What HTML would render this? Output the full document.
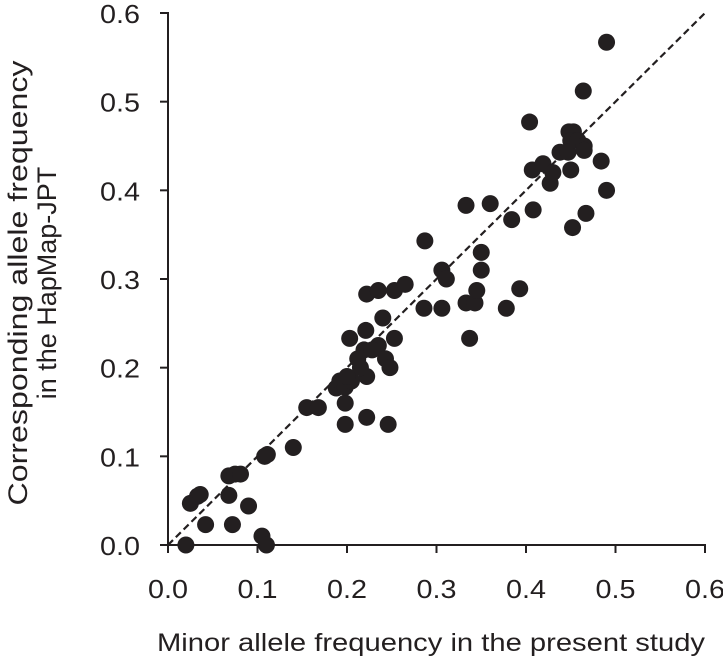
<!DOCTYPE html>
<html><head><meta charset="utf-8"><style>
body{margin:0;background:#fff;overflow:hidden;}
svg{display:block;}
svg text{font-family:"Liberation Sans",Arial,sans-serif;fill:#231f20;}
</style></head><body>
<svg id="chart" width="723" height="660"></svg>
<script>
const xTicks=[0.0,0.1,0.2,0.3,0.4,0.5,0.6];
const yTicks=[0.0,0.1,0.2,0.3,0.4,0.5,0.6];
const tickLabels=["0.0","0.1","0.2","0.3","0.4","0.5","0.6"];
const xVals=[0.02,0.025,0.033,0.036,0.042,0.072,0.068,0.068,0.075,0.081,0.09,0.105,0.11,0.108,0.111,0.14,0.155,0.168,0.188,0.192,0.198,0.198,0.198,0.203,0.222,0.222,0.235,0.253,0.265,0.246,0.221,0.24,0.253,0.219,0.235,0.243,0.248,0.222,0.215,0.205,0.212,0.287,0.286,0.306,0.306,0.311,0.333,0.333,0.343,0.337,0.345,0.35,0.35,0.36,0.378,0.384,0.393,0.404,0.407,0.408,0.419,0.427,0.43,0.438,0.448,0.453,0.45,0.447,0.458,0.465,0.45,0.465,0.464,0.484,0.49,0.49,0.452,0.467,0.2,0.228];
const yVals=[0.0,0.047,0.055,0.057,0.023,0.023,0.056,0.078,0.08,0.08,0.044,0.01,0.0,0.1,0.102,0.11,0.155,0.155,0.177,0.185,0.16,0.136,0.178,0.233,0.144,0.283,0.287,0.287,0.294,0.136,0.242,0.256,0.233,0.22,0.225,0.21,0.2,0.19,0.2,0.185,0.21,0.343,0.267,0.267,0.31,0.3,0.383,0.273,0.273,0.233,0.287,0.31,0.33,0.385,0.267,0.367,0.289,0.477,0.423,0.378,0.43,0.408,0.42,0.443,0.466,0.466,0.456,0.443,0.456,0.45,0.423,0.445,0.512,0.433,0.4,0.567,0.358,0.374,0.19,0.22];
const NS="http://www.w3.org/2000/svg";
const svg=document.getElementById('chart');
const X0=168,X1=705,Y0=545,Y1=13;
function sx(v){return X0+(v/0.6)*(X1-X0);}
function sy(v){return Y0-(v/0.6)*(Y0-Y1);}
function mk(t,a){const e=document.createElementNS(NS,t);for(const k in a)e.setAttribute(k,a[k]);svg.appendChild(e);return e;}
let e;
e=mk('line',{x1:sx(0),y1:sy(0),x2:sx(0.6),y2:sy(0.6),stroke:'#231f20','stroke-width':2.2,'stroke-dasharray':'7,4'});


xVals.forEach((v,i)=>{
 const c=mk('circle',{cx:sx(v),cy:sy(yVals[i]),r:8.5,fill:'#231f20'});
 
 
});
e=mk('line',{x1:X0,y1:Y1-1,x2:X0,y2:Y0,stroke:'#231f20','stroke-width':2});


e=mk('line',{x1:X0,y1:Y0,x2:X1+1,y2:Y0,stroke:'#231f20','stroke-width':2});


xTicks.forEach((v,i)=>{
 const t=mk('line',{x1:sx(v),y1:Y0,x2:sx(v),y2:Y0+8,stroke:'#231f20','stroke-width':2});
 
 
 const l=mk('text',{x:sx(v),y:598,'text-anchor':'middle','font-size':26,textLength:40,lengthAdjust:'spacingAndGlyphs'});
 l.textContent=tickLabels[i];
 
 
});
yTicks.forEach((v,i)=>{
 const t=mk('line',{x1:X0-8,y1:sy(v),x2:X0,y2:sy(v),stroke:'#231f20','stroke-width':2});
 
 
 const l=mk('text',{x:100,y:sy(v)+10,'text-anchor':'start','font-size':26,textLength:40,lengthAdjust:'spacingAndGlyphs'});
 l.textContent=tickLabels[i];
 
 
});
e=mk('text',{x:157,y:651,'font-size':25,textLength:548,lengthAdjust:'spacingAndGlyphs'});
e.textContent='Minor allele frequency in the present study';


const g=mk('text',{transform:'translate(0,283) rotate(-90)','text-anchor':'middle','font-size':27});


const t1=document.createElementNS(NS,'tspan');t1.setAttribute('x',0);t1.setAttribute('y',27);t1.setAttribute('textLength',445);t1.setAttribute('lengthAdjust','spacingAndGlyphs');t1.textContent='Corresponding allele frequency';g.appendChild(t1);
const t2=document.createElementNS(NS,'tspan');t2.setAttribute('x',0);t2.setAttribute('y',56);t2.textContent='in the HapMap-JPT';g.appendChild(t2);
</script>
</body></html>
